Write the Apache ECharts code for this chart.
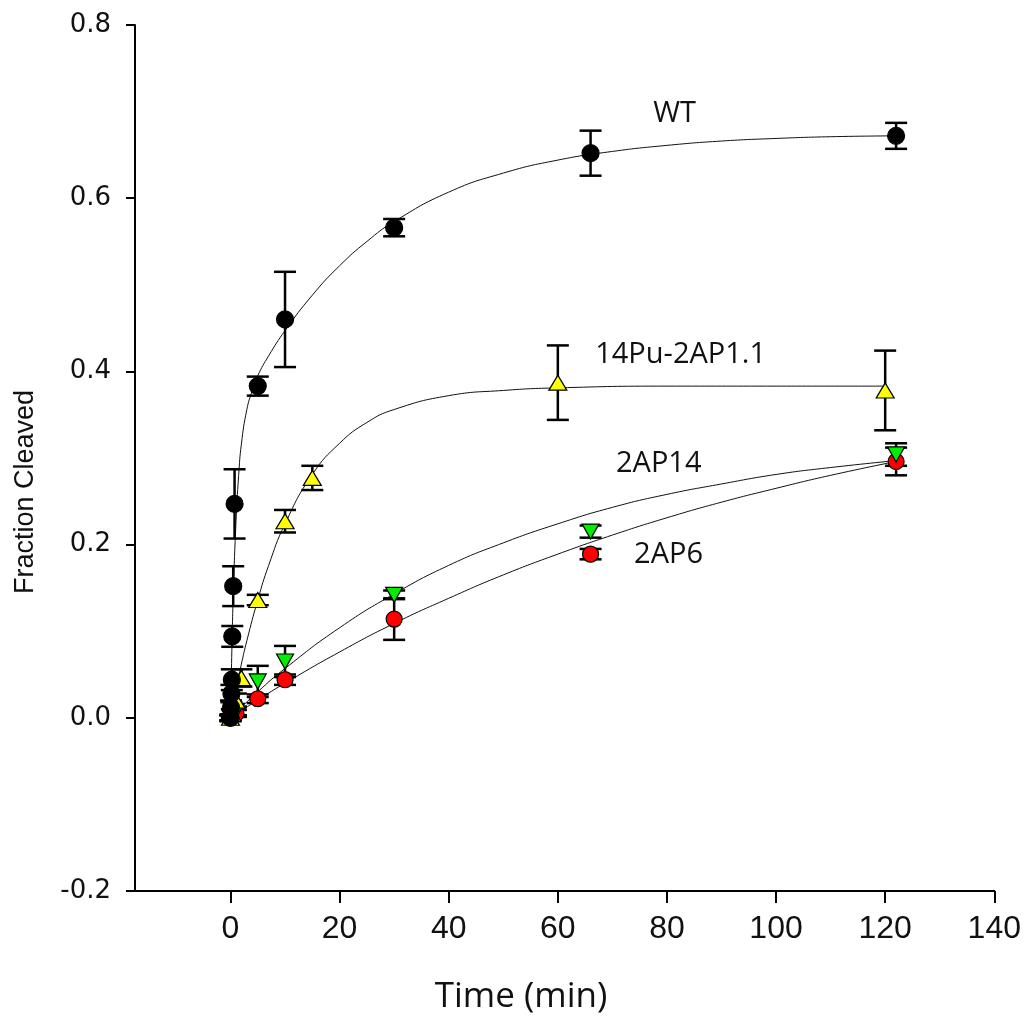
<!DOCTYPE html>
<html>
<head>
<meta charset="utf-8">
<script src="https://cdn.jsdelivr.net/npm/echarts@6/dist/echarts.min.js"></script>
<style>
html,body{margin:0;padding:0;background:#fff;}
#chart{width:1024px;height:1022px;}
</style>
</head>
<body>
<div id="chart"></div>
<script>
// ---- tick labels ----
const xTicks = [0, 20, 40, 60, 80, 100, 120, 140];
const yTicks = [-0.2, 0.0, 0.2, 0.4, 0.6, 0.8];

// ---- WT (black circles) ----
const wtT   = [0, 0.1, 0.17, 0.25, 0.33, 0.5, 0.75, 5, 10, 30, 66, 122];
const wtY   = [0.0, 0.012, 0.028, 0.044, 0.094, 0.152, 0.247, 0.383, 0.460, 0.566, 0.652, 0.672];
const wtErr = [0.004, 0.008, 0.01, 0.012, 0.012, 0.023, 0.040, 0.011, 0.055, 0.010, 0.026, 0.015];

// ---- 14Pu-2AP1.1 (yellow up triangles) ----
const puT   = [0, 0.25, 1, 2, 5, 10, 15, 60, 120];
const puY   = [0.0, 0.005, 0.020, 0.046, 0.136, 0.227, 0.277, 0.387, 0.378];
const puErr = [0.003, 0.005, 0.008, 0.010, 0.006, 0.013, 0.014, 0.043, 0.046];

// ---- 2AP14 (green down triangles) ----
const ap14T   = [0, 1, 5, 10, 30, 66, 122];
const ap14Y   = [0.0, 0.008, 0.042, 0.065, 0.142, 0.215, 0.304];
const ap14Err = [0.003, 0.005, 0.018, 0.018, 0.005, 0.007, 0.013];

// ---- 2AP6 (red circles) ----
const ap6T   = [0, 1, 5, 10, 30, 66, 122];
const ap6Y   = [0.0, 0.005, 0.022, 0.044, 0.114, 0.189, 0.296];
const ap6Err = [0.003, 0.004, 0.005, 0.006, 0.024, 0.006, 0.016];

// ---- fitted curves ----
const wtFitT = [0, 0.25, 0.5, 1, 1.5, 2, 3, 4, 5, 7, 10, 15, 20, 25, 30, 40, 50, 60, 70, 80, 90, 100, 110, 122];
const wtFitY = [0, 0.077, 0.139, 0.225, 0.280, 0.316, 0.356, 0.378, 0.395, 0.418, 0.447, 0.488, 0.522, 0.550, 0.573, 0.607, 0.629, 0.644, 0.654, 0.661, 0.666, 0.669, 0.671, 0.672];
const puFitT = [0, 1, 2, 3, 5, 7, 10, 15, 20, 25, 30, 40, 50, 60, 80, 100, 120];
const puFitY = [0, 0.032, 0.062, 0.089, 0.136, 0.176, 0.224, 0.281, 0.317, 0.341, 0.356, 0.372, 0.378, 0.381, 0.383, 0.383, 0.383];
const ap14FitT = [0, 5, 10, 20, 30, 40, 50, 60, 70, 80, 90, 100, 110, 122];
const ap14FitY = [0, 0.030, 0.057, 0.104, 0.143, 0.176, 0.202, 0.224, 0.243, 0.258, 0.270, 0.281, 0.289, 0.297];
const ap6FitT = [0, 5, 10, 20, 30, 40, 50, 60, 70, 80, 90, 100, 110, 122];
const ap6FitY = [0, 0.0205, 0.040, 0.076, 0.109, 0.138, 0.165, 0.189, 0.211, 0.231, 0.249, 0.265, 0.280, 0.296];

// ---- curve labels (data coordinates) ----
const labelNames = ['WT', '14Pu-2AP1.1', '2AP14', '2AP6'];
const labelX = [81.4, 82.5, 78.5, 80.3];
const labelY = [0.697, 0.419, 0.293, 0.188];

const zip2 = (a, b) => a.map((v, i) => [v, b[i]]);
const zip3 = (a, b, c) => a.map((v, i) => [v, b[i], c[i]]);

function errRender(params, api) {
  const x = api.value(0), y = api.value(1), e = api.value(2);
  const top = api.coord([x, y + e]);
  const bot = api.coord([x, y - e]);
  const hw = 11;
  const st = { stroke: '#000', lineWidth: 2.5 };
  return {
    type: 'group',
    children: [
      { type: 'line', shape: { x1: top[0], y1: top[1], x2: bot[0], y2: bot[1] }, style: st },
      { type: 'line', shape: { x1: top[0] - hw, y1: top[1], x2: top[0] + hw, y2: top[1] }, style: st },
      { type: 'line', shape: { x1: bot[0] - hw, y1: bot[1], x2: bot[0] + hw, y2: bot[1] }, style: st }
    ]
  };
}

function fitSeries(t, y) {
  return {
    type: 'line', data: zip2(t, y), showSymbol: false, symbol: 'none',
    smooth: 0.5, silent: true, z: 1,
    lineStyle: { color: '#111', width: 1 }
  };
}
function errSeries(t, y, e) {
  return { type: 'custom', data: zip3(t, y, e), renderItem: errRender, z: 2, silent: true };
}
function ptSeries(t, y, symbol, size, color, rotate) {
  return {
    type: 'scatter', data: zip2(t, y), symbol: symbol, symbolSize: size,
    symbolRotate: rotate || 0, z: 3,
    itemStyle: { color: color, borderColor: '#000', borderWidth: 1.2, opacity: 1 }
  };
}

const chart = echarts.init(document.getElementById('chart'), null, { renderer: 'canvas' });
chart.setOption({
  backgroundColor: '#fff',
  animation: false,
  grid: { left: 135, right: 27, top: 25, bottom: 131, containLabel: false },
  xAxis: {
    type: 'value', min: -17.5, max: 140,
    axisLine: { show: true, onZero: false, lineStyle: { color: '#000', width: 2 } },
    axisTick: { show: true, inside: false, length: 12, customValues: xTicks, lineStyle: { color: '#000', width: 2 } },
    axisLabel: { customValues: xTicks, margin: 22, color: '#111',
      fontFamily: '"Liberation Sans Narrow", "Liberation Sans", sans-serif', fontSize: 32 },
    splitLine: { show: false }
  },
  yAxis: {
    type: 'value', min: -0.2, max: 0.8, interval: 0.2,
    axisLine: { show: true, onZero: false, lineStyle: { color: '#000', width: 2 } },
    axisTick: { show: true, inside: false, length: 9, customValues: yTicks, lineStyle: { color: '#000', width: 2 } },
    axisLabel: { customValues: yTicks, margin: 24, color: '#111',
      fontFamily: '"DejaVu Sans", sans-serif', fontSize: 26,
      formatter: v => Number(v).toFixed(1) },
    splitLine: { show: false }
  },
  graphic: [
    { type: 'text', x: 26, y: 492, rotation: Math.PI / 2,
      style: { text: 'Fraction Cleaved', fill: '#111', font: '27px "Liberation Sans", Arial, sans-serif',
        align: 'center', verticalAlign: 'middle' } },
    { type: 'text', x: 521, y: 997,
      style: { text: 'Time (min)', fill: '#111', font: '35px "Open Sans", sans-serif',
        align: 'center', verticalAlign: 'middle' } }
  ],
  series: [
    fitSeries(wtFitT, wtFitY),
    fitSeries(puFitT, puFitY),
    fitSeries(ap14FitT, ap14FitY),
    fitSeries(ap6FitT, ap6FitY),
    errSeries(wtT, wtY, wtErr),
    errSeries(puT, puY, puErr),
    errSeries(ap14T, ap14Y, ap14Err),
    errSeries(ap6T, ap6Y, ap6Err),
    ptSeries(ap6T, ap6Y, 'circle', 16, '#ff0000'),
    ptSeries(ap14T, ap14Y, 'triangle', [17, 15], '#00ee00', 180),
    ptSeries(puT, puY, 'triangle', [18, 15], '#ffff00'),
    ptSeries(wtT, wtY, 'circle', 17, '#000000'),
    {
      type: 'scatter', symbolSize: 0, z: 4, silent: true,
      itemStyle: { opacity: 1 },
      data: labelNames.map((n, i) => ({ name: n, value: [labelX[i], labelY[i]] })),
      label: { show: true, position: 'inside', formatter: p => p.name, color: '#111', opacity: 1,
        textBorderWidth: 0, fontFamily: '"Open Sans", sans-serif', fontSize: 29 }
    }
  ]
});
</script>
</body>
</html>
